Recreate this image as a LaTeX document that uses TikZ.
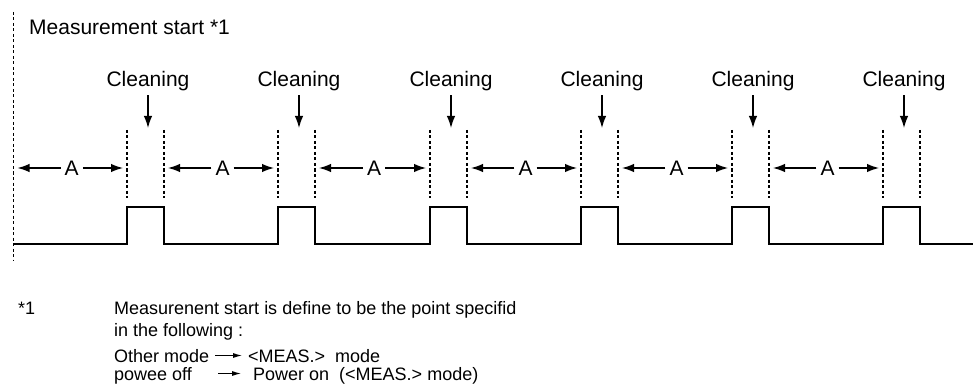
\documentclass[tikz,border=0pt]{standalone}
\usepackage{fontspec}
\setmainfont{Liberation Sans}
\usetikzlibrary{arrows.meta,calc}
\begin{document}
\begin{tikzpicture}[x=1pt,y=-1pt,
  sig/.style={line width=2.4pt},
  guide/.style={line width=1.3pt, dash pattern=on 3pt off 2.5pt},
  dimarrow/.style={line width=1.3pt, -{Latex[length=12pt,width=8.5pt]}},
  cleanarrow/.style={line width=1.3pt, -{Latex[length=12pt,width=8.5pt]}},
  fnarrow/.style={line width=1pt, -{Latex[length=9pt,width=5pt]}},
  big/.style={font=\fontsize{21}{25}\selectfont, inner sep=0pt},
  small/.style={font=\fontsize{18}{21}\selectfont, inner sep=0pt, text height=13pt, text depth=0pt},
  ]
\useasboundingbox (0,0) rectangle (973,390);

% measurement start line
\coordinate (Stop) at (13.5,12);
\coordinate (Sbot) at (13.5,261);
\draw[guide] (Stop) -- (Sbot);
\coordinate (R0) at (13.5,168);
\node[big, anchor=base west] (MS) at (29,35) {Measurement start *1};

% signal
\draw[sig, line join=miter] (14,244)
  \foreach \x in {127,278,430,581,732,883} { -- (\x,244) -- (\x,207) -- (\x+37,207) -- (\x+37,244) }
  -- (973,244);

% pulses: guides, cleaning labels
\foreach \x [count=\i] in {127,278,430,581,732,883} {
  \coordinate (L\i) at (\x,168);
  \coordinate (R\i) at (\x+37,168);
  \draw[guide] (\x,130) -- (\x,198);
  \draw[guide] (\x+37,130) -- (\x+37,198);
  \node[big, anchor=base] (C\i) at (\x+21,87) {Cleaning};
  \coordinate (T\i) at (\x+21,128);
  \draw[cleanarrow, shorten <=3.5pt] (C\i.south) -- (T\i);
}

% A intervals
\foreach \i [remember=\i as \p (initially 0)] in {1,...,6} {
  \node[big, inner xsep=4pt] (A\i) at ($(R\p)!0.5!(L\i)+(1.5,0)$) {A};
  \draw[dimarrow, shorten >=4pt] (A\i) -- (R\p);
  \draw[dimarrow, shorten >=4pt] (A\i) -- (L\i);
}

% footnote
\node[small, anchor=base west] (fn) at (18,314) {*1};
\node[small, anchor=base west] (f1) at (114,314) {Measurenent start is define to be the point specifid};
\node[small, anchor=base west] (f2) at (114,336) {in the following :};
\node[small, anchor=base west] (f3a) at (114,362) {Other mode};
\node[small, anchor=base west] (f3b) at (248,362) {<MEAS.>\ \ mode};
\node[small, anchor=base west] (f4a) at (114,380) {powee off};
\node[small, anchor=base west] (f4b) at (253,380) {Power on\ \ (<MEAS.> mode)};
\draw[fnarrow, shorten <=6pt, shorten >=6pt] (f3a.east) -- (f3a.east -| f3b.west);
\draw[fnarrow, shorten <=26pt, shorten >=12pt] (f4a.east) -- (f4a.east -| f4b.west);
\end{tikzpicture}
\end{document}
